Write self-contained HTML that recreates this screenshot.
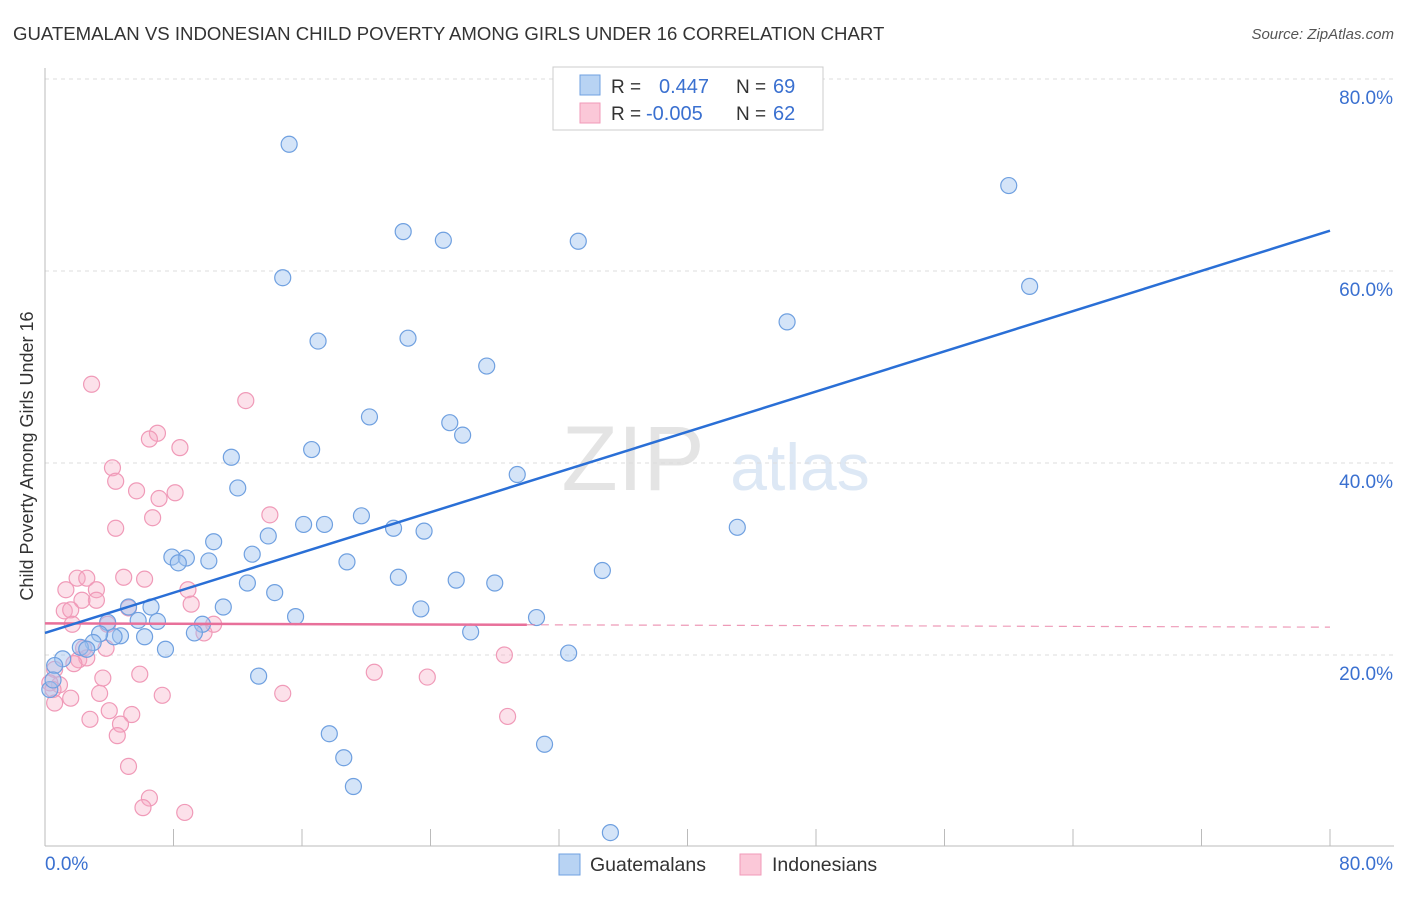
<!DOCTYPE html>
<html><head><meta charset="utf-8"><style>
body{margin:0;background:#fff;font-family:"Liberation Sans",sans-serif;}
svg text{font-family:"Liberation Sans",sans-serif;}
</style></head><body>
<svg id="chart" width="1406" height="892" xmlns="http://www.w3.org/2000/svg">
<text x="13" y="40" font-size="18.6" fill="#333">GUATEMALAN VS INDONESIAN CHILD POVERTY AMONG GIRLS UNDER 16 CORRELATION CHART</text>
<text x="1394" y="39" font-size="15" fill="#555" text-anchor="end" font-style="italic">Source: ZipAtlas.com</text>
<g>
<text x="633" y="490" font-size="92" fill="#e4e4e4" text-anchor="middle" font-family="Liberation Serif">ZIP</text>
<text x="800" y="490" font-size="66" fill="#dde8f5" text-anchor="middle">atlas</text>
</g>
<g id="grid"></g><g id="axes"></g><g id="marks"></g>
<text transform="translate(33,456) rotate(-90)" font-size="18" fill="#333" text-anchor="middle">Child Poverty Among Girls Under 16</text>
<g>
<rect x="553" y="67" width="270" height="63" fill="#fff" stroke="#ccc"/>
<rect x="580" y="75" width="20" height="20" fill="#b8d3f3" stroke="#6fa0e0"/>
<rect x="580" y="103" width="20" height="20" fill="#fbc8d8" stroke="#f09ab8"/>
<text x="611" y="93" font-size="19" fill="#333">R =</text>
<text x="659" y="93" font-size="20" fill="#3a70d0">0.447</text>
<text x="736" y="93" font-size="19" fill="#333">N =</text>
<text x="773" y="93" font-size="20" fill="#3a70d0">69</text>
<text x="611" y="120" font-size="19" fill="#333">R =</text>
<text x="646" y="120" font-size="20" fill="#3a70d0">-0.005</text>
<text x="736" y="120" font-size="19" fill="#333">N =</text>
<text x="773" y="120" font-size="20" fill="#3a70d0">62</text>
</g>
<g>
<rect x="559" y="854" width="21" height="21" fill="#b8d3f3" stroke="#6fa0e0"/>
<text x="590" y="871" font-size="19.5" fill="#333">Guatemalans</text>
<rect x="740" y="854" width="21" height="21" fill="#fbc8d8" stroke="#f09ab8"/>
<text x="772" y="871" font-size="19.5" fill="#333">Indonesians</text>
</g>
</svg>
<script>
const xTicks=[0,8,16,24,32,40,48,56,64,72,80];
const yTicks=[20,40,60,80];
const blueX=[15.2,60.0,22.3,24.8,33.2,14.8,61.3,46.2,17.0,22.6,27.5,20.2,25.2,26.0,16.6,11.6,29.4,12.0,43.1,19.7,16.1,17.4,21.7,23.6,13.9,10.5,7.9,8.8,12.9,10.2,8.3,18.8,22.0,25.6,28.0,34.7,12.6,14.3,6.6,5.2,11.1,15.6,23.4,5.8,7.0,30.6,9.8,3.9,26.5,9.3,6.2,4.7,4.3,3.4,3.0,2.2,2.6,7.5,32.6,1.1,0.6,13.3,17.7,18.6,31.1,19.2,35.2,0.3,0.5];
const blueY=[73.2,68.9,64.1,63.2,63.1,59.3,58.4,54.7,52.7,53.0,50.1,44.8,44.2,42.9,41.4,40.6,38.8,37.4,33.3,34.5,33.6,33.6,33.2,32.9,32.4,31.8,30.2,30.1,30.5,29.8,29.6,29.7,28.1,27.8,27.5,28.8,27.5,26.5,25.0,25.0,25.0,24.0,24.8,23.6,23.5,23.9,23.2,23.4,22.4,22.3,21.9,22.0,21.9,22.2,21.3,20.8,20.6,20.6,20.2,19.6,18.9,17.8,11.8,9.3,10.7,6.3,1.5,16.4,17.4];
const pinkX=[2.9,12.5,7.0,6.5,8.4,4.2,4.4,5.7,7.1,8.1,14.0,6.7,4.4,4.9,6.2,2.0,2.6,1.3,3.2,8.9,3.2,2.3,9.1,1.2,1.6,5.2,1.7,3.9,10.5,9.9,2.4,2.1,2.6,1.8,3.8,28.6,20.5,5.9,0.6,0.9,3.6,23.8,0.3,0.5,3.4,7.3,14.8,1.6,0.6,4.0,5.4,2.8,4.7,28.8,4.5,5.2,6.5,6.1,8.7];
const pinkY=[48.2,46.5,43.1,42.5,41.6,39.5,38.1,37.1,36.3,36.9,34.6,34.3,33.2,28.1,27.9,28.0,28.0,26.8,26.8,26.8,25.7,25.7,25.3,24.6,24.7,24.9,23.2,23.2,23.2,22.3,20.7,19.5,19.7,19.1,20.7,20.0,18.2,18.0,18.5,16.9,17.6,17.7,17.1,16.4,16.0,15.8,16.0,15.5,15.0,14.2,13.8,13.3,12.8,13.6,11.6,8.4,5.1,4.1,3.6];
const blueLine=[22.3,64.2];
const pinkLine=[23.3,22.9];
const pinkSolidEnd=30;
const X=v=>45+v/80*1285, Y=v=>847-v*9.6;
const NS="http://www.w3.org/2000/svg";
function mk(tag,attrs,parent){const e=document.createElementNS(NS,tag);for(const k in attrs)e.setAttribute(k,attrs[k]);document.getElementById(parent).appendChild(e);return e;}
yTicks.forEach(t=>{
 const g=mk('line',{x1:45,x2:1394,y1:Y(t),y2:Y(t),stroke:'#ddd','stroke-dasharray':'4,4'},'grid');
 
 
 const l=mk('text',{x:1393,y:Y(t)+25,'font-size':19,fill:'#3a70d0','text-anchor':'end'},'axes');
 l.textContent=t.toFixed(1)+'%';
 
 
});
const ya=mk('line',{x1:45,x2:45,y1:68,y2:846,stroke:'#bbb'},'axes');


const xa=mk('line',{x1:45,x2:1394,y1:846,y2:846,stroke:'#bbb'},'axes');


xTicks.forEach(t=>{
 const k=mk('line',{x1:X(t),x2:X(t),y1:829,y2:846,stroke:'#bbb'},'axes');
 
 
});
[[0,'start',45],[80,'end',1393]].forEach(([t,a,px])=>{
 const l=mk('text',{x:px,y:870,'font-size':19,fill:'#3a70d0','text-anchor':a},'axes');
 l.textContent=t.toFixed(1)+'%';
 
 
});
pinkX.forEach((x,i)=>{
 const c=mk('circle',{cx:X(x),cy:Y(pinkY[i]),r:8,fill:'rgba(246,170,196,0.35)',stroke:'#f09ab8','stroke-width':1.2},'marks');
 
 
});
blueX.forEach((x,i)=>{
 const c=mk('circle',{cx:X(x),cy:Y(blueY[i]),r:8,fill:'rgba(160,196,240,0.45)',stroke:'#6fa0e0','stroke-width':1.2},'marks');
 
 
});
const pAt=x=>pinkLine[0]+(pinkLine[1]-pinkLine[0])*x/80;
const pd=mk('line',{x1:X(pinkSolidEnd),y1:Y(pAt(pinkSolidEnd)),x2:X(80),y2:Y(pinkLine[1]),stroke:'#e8709a','stroke-width':1.2,'stroke-dasharray':'8,6',opacity:0.7},'marks');


const ps=mk('line',{x1:X(0),y1:Y(pinkLine[0]),x2:X(pinkSolidEnd),y2:Y(pAt(pinkSolidEnd)),stroke:'#e8709a','stroke-width':2.5},'marks');


const bl=mk('line',{x1:X(0),y1:Y(blueLine[0]),x2:X(80),y2:Y(blueLine[1]),stroke:'#2a6fd6','stroke-width':2.5},'marks');


</script>
</body></html>
